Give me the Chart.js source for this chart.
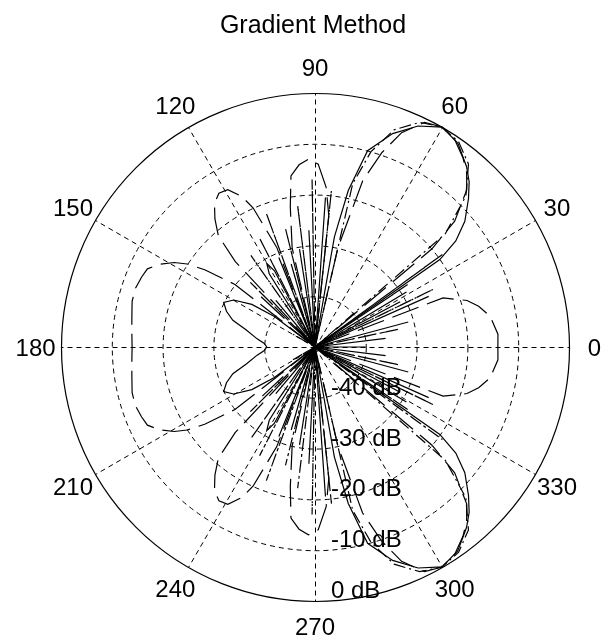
<!DOCTYPE html>
<html>
<head>
<meta charset="utf-8">
<title>Gradient Method</title>
<script src="https://cdn.jsdelivr.net/npm/chart.js@4"></script>
<style>
  html, body { margin: 0; padding: 0; background: #fff; }
  canvas { display: block; }
</style>
</head>
<body>
<canvas id="chart" width="602" height="639"></canvas>
<script>
// polar pattern, angles in degrees, levels in dB
const dbMin = -50
const dbMax = 0
const ringDb = [-40, -30, -20, -10, 0]
const ringLabels = ['-40 dB', '-30 dB', '-20 dB', '-10 dB', '0 dB']
const spokeAngles = [0, 30, 60, 90, 120, 150, 180, 210, 240, 270, 300, 330]

// solid curve
const solidAngles = [0, 3, 7, 11, 15, 19, 24, 28, 31, 33, 35, 37, 40, 44, 47, 50, 55, 60, 65, 70, 75, 78, 80, 82,
  86, 89, 93, 96, 99, 102, 106, 109, 112, 115, 118, 120, 122, 124, 130, 134, 140, 143, 146, 150, 154, 158, 162, 166,
  172, 176, 180,
  184, 188, 194, 198, 202, 206, 210, 214, 217, 220, 226, 230, 236, 238, 240, 242, 245, 248, 251, 254, 258, 261, 264,
  267, 271, 274, 278, 280, 282, 285, 290, 295, 300, 305, 310, 313, 316, 320, 323, 325, 327, 329, 332, 336, 341, 345,
  349, 353, 357, 360]
const solidDb = [-40, -50, -36, -50, -31, -50, -25.5, -50, -29, -50, -20, -15.3, -11.5, -8, -5.5, -3.6, -1, 0, -2, -5.3, -10, -18.5, -28, -50,
  -20.5, -50, -27, -50, -30.5, -50, -33, -50, -31, -50, -33, -31, -33, -50, -38, -50, -50, -40, -35, -31.5, -30, -31.2, -33, -36,
  -38.5, -40, -40.5,
  -40, -38.5, -36, -33, -31.2, -30, -31.5, -35, -40, -50, -50, -38, -50, -33, -31, -33, -50, -31, -50, -33, -50, -30.5, -50,
  -27, -50, -20.5, -50, -28, -18.5, -10, -5.3, -2, 0, -1, -3.6, -5.5, -8, -11.5, -15.3, -20, -50, -29, -50, -25.5, -50, -31,
  -50, -36, -50, -40]

// long dashed curve
const dashAngles = [0, 4, 10, 14, 17, 21, 24, 28, 31, 34, 37, 40, 42, 46, 49, 52, 56, 60, 64, 68, 71, 74, 77, 79,
  84, 86, 89, 92, 95, 98, 100, 103, 105, 111, 114, 116, 119, 122, 125, 128, 131, 133, 135, 137, 139, 142, 145, 147,
  149, 152, 155, 158, 162, 166, 170, 175, 180,
  185, 190, 194, 198, 202, 205, 208, 211, 213, 215, 218, 221, 223, 225, 227, 229, 232, 235, 238, 241, 244, 246, 249,
  255, 257, 260, 262, 265, 268, 271, 274, 276, 281, 283, 286, 289, 292, 296, 300, 304, 308, 311, 314, 318, 320, 323,
  326, 329, 332, 336, 339, 343, 346, 350, 356, 360]
const dashDb = [-14, -13.9, -15, -16.8, -18.7, -23, -50, -31, -50, -28, -50, -20, -13, -7, -4.5, -2.7, -0.8, 0, -0.8, -4.5, -9.5, -16, -30, -50,
  -24, -18.5, -14, -13, -14, -16, -22, -30, -50, -29, -20, -17, -14.6, -14.3, -15.5, -18, -21, -27, -50, -35, -50, -30, -23.5, -20,
  -17.7, -15.3, -13.6, -13.2, -12.8, -12.9, -13.4, -13.8, -14,
  -13.8, -13.4, -12.9, -12.8, -13.2, -13.6, -15.3, -17.7, -20, -23.5, -30, -50, -35, -50, -27, -21, -18, -15.5, -14.3, -14.6, -17, -20, -29,
  -50, -30, -22, -16, -14, -13, -14, -18.5, -24, -50, -30, -16, -9.5, -4.5, -0.8, 0, -0.8, -2.7, -4.5, -7, -13, -20, -50,
  -28, -50, -31, -50, -23, -18.7, -16.8, -15, -13.9, -14]

// dash-dot curve
const dotAngles = [0, 6, 12, 20, 26, 30, 36, 38, 41, 45, 50, 55, 60, 65, 70, 74, 77, 80, 84, 87, 91, 94, 97, 100,
  104, 107, 110, 113, 117, 120, 125, 128, 135, 138, 150, 160, 180,
  200, 210, 222, 225, 232, 235, 240, 243, 247, 250, 253, 256, 260, 263, 266, 269, 273, 276, 280, 283, 286, 290, 295,
  300, 305, 310, 315, 319, 322, 324, 330, 334, 340, 348, 354, 360]
const dotDb = [-50, -50, -33, -50, -24, -50, -19, -50, -16, -8, -3, -0.7, 0, -1.2, -4.5, -10, -17, -50, -19, -50, -17, -50, -22, -50,
  -26, -50, -22, -50, -26, -50, -28, -50, -32, -50, -45, -50, -50,
  -50, -45, -50, -32, -50, -28, -50, -26, -50, -22, -50, -26, -50, -22, -50, -17, -50, -19, -50, -17, -10, -4.5, -1.2,
  0, -0.7, -3, -8, -16, -50, -19, -50, -24, -50, -33, -50, -50]

function toXY(angles, levels) {
  return angles.map((a, i) => {
    const r = Math.max(0, (levels[i] - dbMin) / (dbMax - dbMin))
    const t = a * Math.PI / 180
    return { x: r * Math.cos(t), y: r * Math.sin(t) }
  })
}

const FONT = '"Liberation Sans", Arial, sans-serif'

const polarGrid = {
  id: 'polarGrid',
  beforeDatasetsDraw(chart) {
    const ctx = chart.ctx
    const xs = chart.scales.x, ys = chart.scales.y
    const cx = Math.round(xs.getPixelForValue(0)) + 0.5
    const cy = Math.round(ys.getPixelForValue(0)) + 0.5
    const R = xs.getPixelForValue(1) - xs.getPixelForValue(0)
    ctx.save()
    ctx.strokeStyle = '#000'
    ctx.lineWidth = 1
    ctx.setLineDash([5, 4])
    ringDb.forEach(d => {
      const r = R * (d - dbMin) / (dbMax - dbMin)
      if (d === dbMax) return
      ctx.beginPath()
      ctx.arc(cx, cy, r, 0, Math.PI * 2)
      ctx.stroke()
    })
    spokeAngles.forEach(a => {
      const t = a * Math.PI / 180
      ctx.beginPath()
      ctx.moveTo(cx, cy)
      ctx.lineTo(cx + R * Math.cos(t), cy - R * Math.sin(t))
      ctx.stroke()
    })
    ctx.setLineDash([])
    ctx.lineWidth = 1.2
    ctx.beginPath()
    ctx.arc(cx, cy, R, 0, Math.PI * 2)
    ctx.stroke()
    ctx.restore()
  },
  afterDatasetsDraw(chart) {
    const ctx = chart.ctx
    const xs = chart.scales.x, ys = chart.scales.y
    const cx = xs.getPixelForValue(0), cy = ys.getPixelForValue(0)
    const R = xs.getPixelForValue(1) - cx
    ctx.save()
    ctx.fillStyle = '#000'
    ctx.font = '24px ' + FONT
    ctx.textAlign = 'center'
    ctx.textBaseline = 'alphabetic'
    spokeAngles.forEach(a => {
      const t = a * Math.PI / 180
      ctx.fillText(String(a), cx + 1.1 * R * Math.cos(t), cy - 1.1 * R * Math.sin(t) + 8.5)
    })
    ctx.textAlign = 'left'
    ringDb.forEach((d, i) => {
      const r = R * (d - dbMin) / (dbMax - dbMin)
      ctx.fillText(ringLabels[i], cx + 16, cy + r - 3)
    })
    ctx.font = '25px ' + FONT
    ctx.textAlign = 'center'
    ctx.fillText('Gradient Method', cx - 2, 33)
    ctx.restore()
  }
}

const line = (data, dash) => ({
  data: data,
  showLine: true,
  borderColor: '#000',
  borderWidth: 1.2,
  borderDash: dash,
  pointRadius: 0,
  tension: 0,
  fill: false,
  clip: false
})

new Chart(document.getElementById('chart'), {
  type: 'scatter',
  data: {
    datasets: [
      line(toXY(dotAngles, dotDb), [12, 4, 2, 4]),
      line(toXY(dashAngles, dashDb), [28, 9]),
      line(toXY(solidAngles, solidDb), [])
    ]
  },
  options: {
    responsive: false,
    animation: false,
    layout: { padding: { left: 61, right: 33, top: 93, bottom: 38 } },
    plugins: { legend: { display: false }, tooltip: { enabled: false }, title: { display: false } },
    scales: {
      x: { type: 'linear', min: -1, max: 1, display: false },
      y: { type: 'linear', min: -1, max: 1, display: false }
    }
  },
  plugins: [polarGrid]
})
</script>
</body>
</html>
